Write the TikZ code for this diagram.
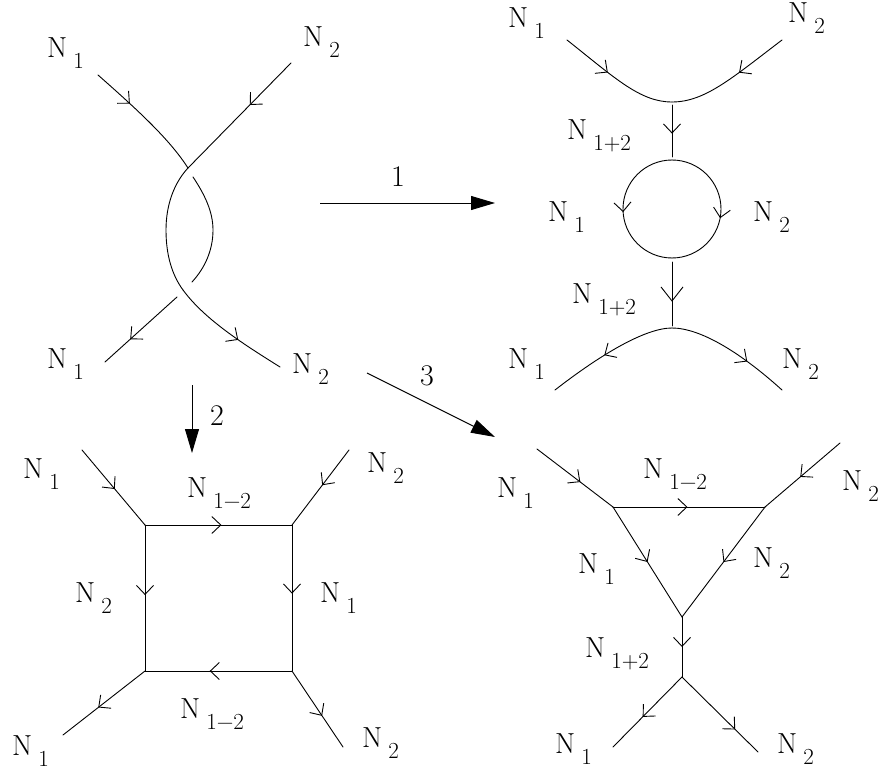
\documentclass[tikz,border=0pt]{standalone}
\usepackage{fontspec}
\usetikzlibrary{decorations.markings,arrows.meta}
\tikzset{
  ln/.style={line width=0.9pt, line cap=round},
  ar/.style={postaction={decorate, decoration={markings, mark=at position #1 with {\arrow[line width=0.9pt]{Straight Barb[length=9pt,width=17pt]}}}}},
  ar/.default=0.5,
  arbig/.style={postaction={decorate, decoration={markings, mark=at position #1 with {\arrow[line width=0.9pt]{Straight Barb[length=14pt,width=22pt]}}}}},
  bigar/.style={line width=0.9pt, -{Triangle[length=24pt,width=14pt]}},
  lab/.style={anchor=base west, inner sep=0pt, font=\fontsize{29}{29}\selectfont},
  numlab/.style={anchor=base, inner sep=0pt, font=\fontsize{30}{30}\selectfont},
}
\newcommand\Nlab[3]{\node[lab] (#1) at (#2) {N\hspace{6pt}\raisebox{-11pt}{\fontsize{23}{23}\selectfont #3}};}
\begin{document}
\begin{tikzpicture}[x=1pt,y=-1pt]
\useasboundingbox (0,0) rectangle (883,770);

% ---------- top-left: twisted pair ----------
\coordinate (a1) at (98,75);
\coordinate (x1) at (188,168);
\coordinate (b1) at (291,63);
\coordinate (r1) at (193,177);
\coordinate (r2) at (192,282);
\coordinate (c1) at (177,297);
\coordinate (a2) at (105,362);
\coordinate (x2) at (183,290);
\coordinate (b2) at (280,367);
\draw[ln, ar=0.33] (a1) .. controls (140,112) and (170,140) .. (x1);
\draw[ln] (r1) .. controls (205,195) and (213,212) .. (213,230) .. controls (213,250) and (205,268) .. (r2);
\draw[ln, ar=0.65] (c1) -- (a2);
\draw[ln, ar=0.4] (b1) -- (x1);
\draw[ln] (x1) .. controls (174,183) and (166,205) .. (166,230) .. controls (166,255) and (172,275) .. (x2);
\draw[ln, ar=0.6] (x2) .. controls (205,320) and (245,345) .. (b2);
\Nlab{tlA}{47,58}{1}
\Nlab{tlB}{303,47}{2}
\Nlab{tlC}{47,368}{1}
\Nlab{tlD}{292,373}{2}

% ---------- top-right: bubble ----------
\coordinate (ul) at (567,40);
\coordinate (ur) at (782,40);
\coordinate (um) at (672,102);
\coordinate (v1) at (672,105);
\coordinate (v2) at (672,157);
\coordinate (ct) at (672,160);
\coordinate (cb) at (672,258);
\coordinate (w1) at (672,262);
\coordinate (w2) at (672,326);
\coordinate (lm) at (672,328);
\coordinate (ll) at (555,390);
\coordinate (lr) at (782,390);
\draw[ln, ar=0.42] (ul) .. controls (615,78) and (640,102) .. (um);
\draw[ln, ar=0.42] (ur) .. controls (732,78) and (705,102) .. (um);
\draw[ln, ar=0.55] (v1) -- (v2);
\draw[ln, ar=0.52] (ct) .. controls (645,160) and (623,182) .. (623,209) .. controls (623,236) and (645,258) .. (cb);
\draw[ln, ar=0.56] (ct) .. controls (699,160) and (721,182) .. (721,209) .. controls (721,236) and (699,258) .. (cb);
\draw[ln, arbig=0.62] (w1) -- (w2);
\draw[ln, ar=0.55] (lm) .. controls (645,328) and (600,355) .. (ll);
\draw[ln, ar=0.65] (lm) .. controls (700,328) and (740,352) .. (lr);
\Nlab{trA}{508,28}{1}
\Nlab{trB}{788,23}{2}
\Nlab{trC}{567,140}{1+2}
\Nlab{trD}{548,222}{1}
\Nlab{trE}{753,222}{2}
\Nlab{trF}{572,303}{1+2}
\Nlab{trG}{508,368}{1}
\Nlab{trH}{782,368}{2}

% ---------- big arrows ----------
\coordinate (p1s) at (320,203);
\coordinate (p1e) at (495,203);
\coordinate (p2s) at (192,385);
\coordinate (p2e) at (192,453);
\coordinate (p3s) at (367,373);
\coordinate (p3e) at (495,437);
\draw[bigar] (p1s) -- (p1e);
\draw[bigar] (p2s) -- (p2e);
\draw[bigar] (p3s) -- (p3e);
\node[numlab] (k1) at (398,187) {1};
\node[numlab] (k2) at (217,425) {2};
\node[numlab] (k3) at (427,385) {3};

% ---------- bottom-left: box ----------
\coordinate (s1) at (145,525);
\coordinate (s2) at (292,525);
\coordinate (s3) at (292,671);
\coordinate (s4) at (145,671);
\coordinate (l1) at (82,450);
\coordinate (l2) at (349,450);
\coordinate (l3) at (343,747);
\coordinate (l4) at (63,735);
\draw[ln, ar=0.52] (l1) -- (s1);
\draw[ln, ar=0.47] (l2) -- (s2);
\draw[ln, ar=0.57] (s4) -- (l4);
\draw[ln, ar=0.59] (s3) -- (l3);
\draw[ln, ar=0.52] (s1) -- (s2);
\draw[ln, ar=0.48] (s1) -- (s4);
\draw[ln, ar=0.47] (s2) -- (s3);
\draw[ln, ar=0.56] (s3) -- (s4);
\Nlab{blA}{23,478}{1}
\Nlab{blB}{187,497}{1−2}
\Nlab{blC}{367,472}{2}
\Nlab{blD}{75,602}{2}
\Nlab{blE}{320,602}{1}
\Nlab{blF}{180,718}{1−2}
\Nlab{blG}{12,755}{1}
\Nlab{blH}{362,747}{2}

% ---------- bottom-right: triangle ----------
\coordinate (t1) at (613,507);
\coordinate (t2) at (765,507);
\coordinate (t3) at (682,617);
\coordinate (tl) at (537,449);
\coordinate (tr) at (840,443);
\coordinate (t4) at (682,677);
\coordinate (tb1) at (613,747);
\coordinate (tb2) at (758,752);
\draw[ln, ar=0.57] (tl) -- (t1);
\draw[ln, ar=0.53] (tr) -- (t2);
\draw[ln, ar=0.49] (t1) -- (t2);
\draw[ln, ar=0.5] (t1) -- (t3);
\draw[ln, ar=0.5] (t2) -- (t3);
\draw[ln, ar=0.5] (t3) -- (t4);
\draw[ln, ar=0.57] (t4) -- (tb1);
\draw[ln, ar=0.7] (t4) -- (tb2);
\Nlab{brA}{497,497}{1}
\Nlab{brB}{643,478}{1−2}
\Nlab{brC}{842,490}{2}
\Nlab{brD}{578,573}{1}
\Nlab{brE}{753,567}{2}
\Nlab{brF}{585,657}{1+2}
\Nlab{brG}{555,753}{1}
\Nlab{brH}{777,753}{2}
\end{tikzpicture}
\end{document}
